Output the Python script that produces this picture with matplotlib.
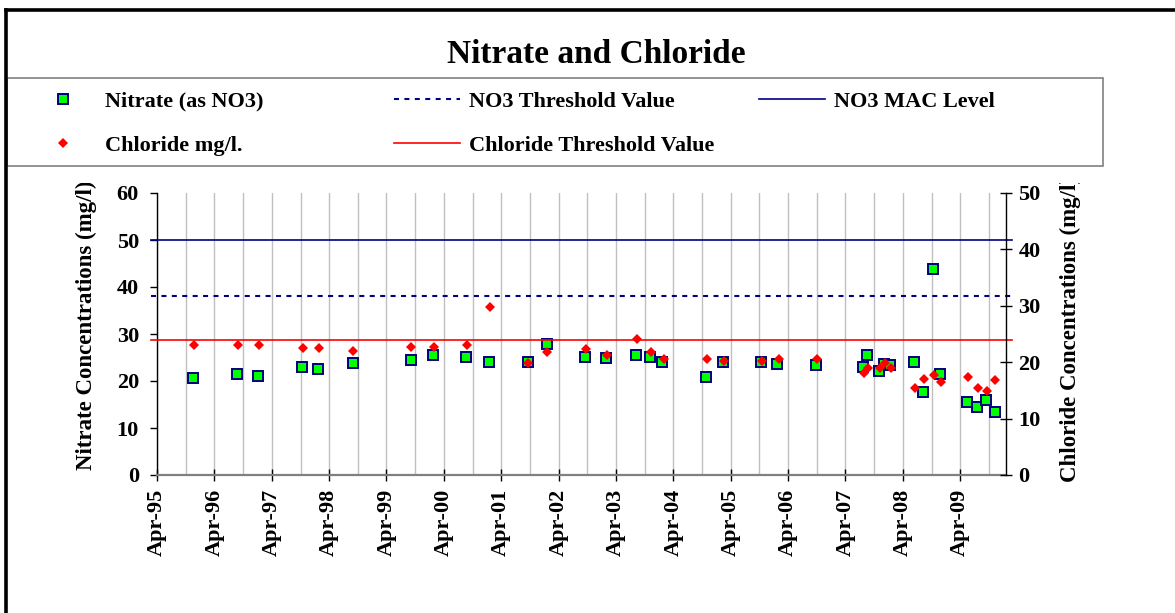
import matplotlib
matplotlib.use("Agg")
import matplotlib.pyplot as plt
import matplotlib.dates as mdates
import pandas as pd
from matplotlib.lines import Line2D
from matplotlib.patches import Rectangle
from matplotlib.ticker import MultipleLocator
from matplotlib.transforms import Bbox, TransformedBbox

plt.rcParams['font.family'] = ['Liberation Serif', 'DejaVu Serif']
plt.rcParams['font.weight'] = 'bold'

# Nitrate samples (left axis, mg/l)
nitrate_dates = ["1995-11-17", "1996-08-25", "1997-01-01", "1997-10-12", "1998-01-19",
                 "1998-08-29", "1999-09-02", "2000-01-22", "2000-08-21", "2001-01-15",
                 "2001-09-16", "2002-01-15", "2002-09-16", "2003-01-30", "2003-08-07",
                 "2003-11-03", "2004-01-22", "2004-10-23", "2005-02-13", "2005-10-08",
                 "2006-01-22", "2006-09-23", "2007-07-20", "2007-08-14", "2007-11-03",
                 "2007-12-02", "2008-01-11", "2008-06-09", "2008-08-07", "2008-10-12",
                 "2008-11-25", "2009-05-12", "2009-07-16", "2009-09-12", "2009-11-07"]
nitrate_values = [20.7, 21.4, 21.1, 22.9, 22.5,
                  23.8, 24.5, 25.5, 25.2, 24.1,
                  24.1, 27.8, 25.2, 24.8, 25.6,
                  25.2, 24.1, 20.8, 24.1, 24.1,
                  23.7, 23.4, 22.9, 25.6, 22.2,
                  23.6, 23.4, 24.1, 17.7, 43.8,
                  21.5, 15.5, 14.4, 15.9, 13.3]

# Chloride samples (right axis, mg/l)
chloride_dates = ["1995-11-24", "1996-08-29", "1997-01-12", "1997-10-16", "1998-01-26",
                  "1998-09-02", "1999-09-06", "2000-01-30", "2000-08-29", "2001-01-19",
                  "2001-09-20", "2002-01-19", "2002-09-24", "2003-02-03", "2003-08-15",
                  "2003-11-10", "2004-01-30", "2004-10-30", "2005-02-17", "2005-10-16",
                  "2006-02-03", "2006-10-04", "2007-07-27", "2007-08-22", "2007-11-07",
                  "2007-12-09", "2008-01-19", "2008-06-17", "2008-08-11", "2008-10-19",
                  "2008-12-02", "2009-05-19", "2009-07-24", "2009-09-16", "2009-11-10"]
chloride_values = [23.0, 23.0, 23.0, 22.6, 22.6,
                   22.0, 22.7, 22.7, 23.0, 29.8,
                   19.9, 21.8, 22.4, 21.2, 24.2,
                   21.8, 20.6, 20.6, 20.3, 20.2,
                   20.6, 20.6, 18.0, 19.0, 19.0,
                   19.9, 19.0, 15.5, 17.1, 17.7,
                   16.5, 17.4, 15.5, 14.9, 16.8]

# Reference levels
no3_mac_level = 50
no3_threshold = 38
chloride_threshold = 24
threshold_dates = ["1995-02-22", "2010-02-26"]

x_start, x_end = "1995-04-01", "2010-01-18"

W, H = 1175, 613


def fx(px):
    return px / W


def fy(py):
    return 1 - py / H


fig = plt.figure(figsize=(W / 100, H / 100), dpi=100)
fig.patch.set_facecolor('white')

ax = fig.add_axes([fx(157), fy(475), fx(1006) - fx(157), fy(193) - fy(475)])
ax2 = ax.twinx()

td = pd.to_datetime(threshold_dates)
nd = pd.to_datetime(nitrate_dates)
cd = pd.to_datetime(chloride_dates)

# Threshold lines
ax.plot(td, [no3_mac_level] * 2, color='#000080', lw=1.2, clip_on=False, zorder=3)
ax.plot(td, [no3_threshold] * 2, color='#000080', lw=1.5, dashes=(2.4, 2.6),
        clip_on=False, zorder=3)
ax2.plot(td, [chloride_threshold] * 2, color='#ff0000', lw=1.2, clip_on=False, zorder=2)

# Sample points
nit_style = dict(ls='none', marker='s', ms=7, mfc='#00ff00', mec='#000080', mew=1.4)
chl_style = dict(ls='none', marker='D', ms=4.8, mfc='#ff0000', mec='#ff0000', mew=0)
ax.plot(nd, nitrate_values, zorder=4, **nit_style)
ax2.plot(cd, chloride_values, zorder=4, **chl_style)

# Axes
ax.set_xlim(pd.Timestamp(x_start), pd.Timestamp(x_end))
ax.set_ylim(0, 60)
ax2.set_ylim(0, 50)
ax.yaxis.set_major_locator(MultipleLocator(10))
ax2.yaxis.set_major_locator(MultipleLocator(10))
ax.xaxis.set_major_locator(mdates.MonthLocator(bymonth=4))
ax.xaxis.set_minor_locator(mdates.MonthLocator(bymonth=10))
ax.xaxis.set_major_formatter(mdates.DateFormatter('%b-%y'))
ax.grid(True, which='both', axis='x', color='#c0c0c0', lw=1.0)
ax.set_axisbelow(True)

ax.tick_params(axis='x', which='minor', length=0)
ax.tick_params(axis='x', which='major', direction='inout', length=8, width=1,
               pad=6, labelsize=16, labelrotation=90, color='black')
ax.tick_params(axis='y', direction='out', length=5, width=1, pad=8, labelsize=16)
ax2.tick_params(axis='y', direction='inout', length=8, width=1, pad=5, labelsize=16)

for s in ['top', 'right']:
    ax.spines[s].set_visible(False)
for s in ['top', 'left', 'bottom']:
    ax2.spines[s].set_visible(False)
ax.spines['bottom'].set_color('#808080')
ax.spines['bottom'].set_linewidth(1.6)
ax.spines['left'].set_linewidth(1.0)
ax2.spines['right'].set_linewidth(1.0)

# Axis titles, cut off at the top like the original
clip = TransformedBbox(Bbox([[0, 0], [1, fy(183)]]), fig.transFigure)
t1 = fig.text(fx(86), fy(470), "Nitrate Concentrations (mg/l)", rotation=90,
              ha='center', va='bottom', fontsize=16.5)
t2 = fig.text(fx(1070), fy(482), "Chloride Concentrations (mg/l)", rotation=90,
              ha='center', va='bottom', fontsize=16.5)
for t in (t1, t2):
    t.set_clip_box(clip)
    t.set_clip_on(True)

# Title
fig.text(fx(596), fy(63), "Nitrate and Chloride", ha='center', va='baseline', fontsize=24)

# Outer chart frame and legend box
fig.add_artist(Line2D([fx(6), fx(6)], [fy(10), 0], color='black', lw=2.6,
                      transform=fig.transFigure))
fig.add_artist(Line2D([fx(6), 1], [fy(10), fy(10)], color='black', lw=2.6,
                      transform=fig.transFigure))
fig.add_artist(Rectangle((fx(7), fy(166)), fx(1103) - fx(7), fy(78) - fy(166),
                         fill=False, ec='#808080', lw=1.2, transform=fig.transFigure))

# Legend
h_nit = Line2D([], [], **nit_style)
h_chl = Line2D([], [], **chl_style)
h_thr = Line2D([], [], color='#000080', lw=1.5, dashes=(2.4, 2.6))
h_cth = Line2D([], [], color='#ff0000', lw=1.2)
h_mac = Line2D([], [], color='#000080', lw=1.2)

common = dict(frameon=False, fontsize=16, handlelength=2.97, handletextpad=0.4,
              labelspacing=1.08, borderpad=0, borderaxespad=0, loc='upper left')
fig.legend([h_nit, h_chl], ["Nitrate (as NO3)", "Chloride mg/l."],
           bbox_to_anchor=(fx(30), fy(91)), **common)
fig.legend([h_thr, h_cth], ["NO3 Threshold Value", "Chloride Threshold Value"],
           bbox_to_anchor=(fx(394), fy(91)), **common)
fig.legend([h_mac], ["NO3 MAC Level"],
           bbox_to_anchor=(fx(759), fy(91)), **common)

fig.savefig("out.png", dpi=100)
